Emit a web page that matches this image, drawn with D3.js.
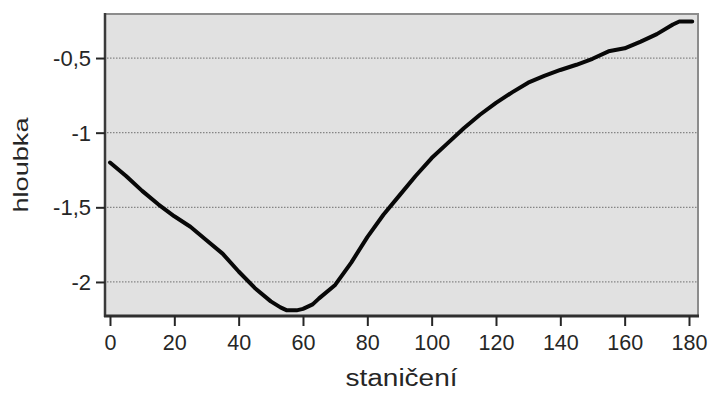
<!DOCTYPE html>
<html>
<head>
<meta charset="utf-8">
<script src="https://cdn.jsdelivr.net/npm/d3@7"></script>
<style>
  html, body { margin: 0; padding: 0; background: #ffffff; }
  svg { display: block; }
  text { font-family: "Liberation Sans", Arial, sans-serif; fill: #262626; }
</style>
</head>
<body>
<svg id="chart" width="710" height="400"></svg>
<script>
// Longitudinal profile: depth (hloubka) against chainage (staničení)
const stations = [0, 5, 10, 15, 20, 25, 30, 35, 40, 45, 50, 53, 55, 58, 60, 63, 65, 70, 75, 80,
                  85, 90, 95, 100, 105, 110, 115, 120, 125, 130, 135, 140, 145, 150, 155, 160,
                  165, 170, 175, 177, 181];
const depths = [-1.20, -1.29, -1.39, -1.48, -1.56, -1.63, -1.72, -1.81, -1.93, -2.04, -2.13, -2.17,
                -2.19, -2.19, -2.18, -2.15, -2.11, -2.02, -1.87, -1.70, -1.55, -1.42, -1.29, -1.17,
                -1.07, -0.97, -0.88, -0.80, -0.73, -0.665, -0.62, -0.58, -0.545, -0.505, -0.455,
                -0.435, -0.39, -0.34, -0.275, -0.255, -0.255];
const xTicks = [0, 20, 40, 60, 80, 100, 120, 140, 160, 180];
const yTicks = [-2, -1.5, -1, -0.5];
const xTitle = "staničení";
const yTitle = "hloubka";

const svg = d3.select("#chart");
const pLeft = 105, pRight = 698, pTop = 14, pBottom = 316;

const x = d3.scaleLinear().domain([-1.55, 182.8]).range([pLeft, pRight]);
const y = d3.scaleLinear().domain([-2.228, -0.205]).range([pBottom, pTop]);

const fmt = v => String(v).replace(".", ",");

// plot panel
svg.append("rect")
  .attr("x", pLeft).attr("y", pTop)
  .attr("width", pRight - pLeft).attr("height", pBottom - pTop)
  .attr("fill", "#e1e1e1");

// dotted horizontal grid
svg.append("g")
  .selectAll("line")
  .data(yTicks)
  .join("line")
  .attr("x1", pLeft + 2).attr("x2", pRight - 1)
  .attr("y1", d => y(d)).attr("y2", d => y(d))
  .attr("stroke", "#858585")
  .attr("stroke-width", 1.3)
  .attr("stroke-dasharray", "1.5,1.5");

// top and right frame
svg.append("path")
  .attr("d", `M${pLeft},${pTop}H${pRight}V${pBottom}`)
  .attr("fill", "none")
  .attr("stroke", "#8c8c8c")
  .attr("stroke-width", 2);

// profile line
const line = d3.line()
  .x((d, i) => x(stations[i]))
  .y(d => y(d));

svg.append("path")
  .datum(depths)
  .attr("d", line)
  .attr("fill", "none")
  .attr("stroke", "#080808")
  .attr("stroke-width", 4)
  .attr("stroke-linejoin", "round")
  .attr("stroke-linecap", "round");

// y axis
const yAxis = svg.append("g")
  .attr("transform", `translate(${pLeft},0)`)
  .call(d3.axisLeft(y).tickValues(yTicks).tickFormat(fmt).tickSize(9).tickPadding(5));
yAxis.select(".domain")
  .attr("d", `M0,${pTop - 1}V${pBottom + 1}`)
  .attr("stroke", "#3a3a3a").attr("stroke-width", 2.5);
yAxis.selectAll(".tick line").attr("stroke", "#262626").attr("stroke-width", 2);
yAxis.selectAll(".tick text")
  .style("font-size", "22px")
  .attr("fill", "#262626")
  .attr("dy", "0.34em");

// x axis
const xAxis = svg.append("g")
  .attr("transform", `translate(0,${pBottom})`)
  .call(d3.axisBottom(x).tickValues(xTicks).tickFormat(fmt).tickSize(10).tickPadding(5));
xAxis.select(".domain")
  .attr("d", `M${pLeft - 1},0H${pRight + 1}`)
  .attr("stroke", "#2f2f2f").attr("stroke-width", 3);
xAxis.selectAll(".tick line").attr("stroke", "#262626").attr("stroke-width", 2);
xAxis.selectAll(".tick text")
  .style("font-size", "21.5px")
  .attr("fill", "#262626")
  .attr("dy", "0.88em");

// axis titles
svg.append("text")
  .attr("x", (pLeft + pRight) / 2).attr("y", 386)
  .attr("text-anchor", "middle")
  .style("font-size", "23px")
  .attr("textLength", 112)
  .attr("lengthAdjust", "spacingAndGlyphs")
  .text(xTitle);

svg.append("text")
  .attr("transform", `translate(28,${(pTop + pBottom) / 2}) rotate(-90)`)
  .attr("text-anchor", "middle")
  .style("font-size", "21px")
  .attr("textLength", 95)
  .attr("lengthAdjust", "spacingAndGlyphs")
  .text(yTitle);
</script>
</body>
</html>
